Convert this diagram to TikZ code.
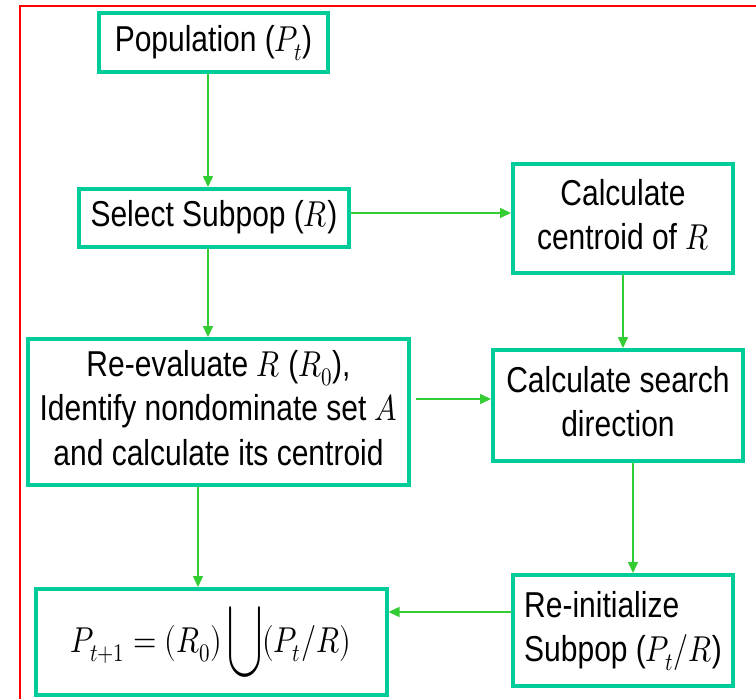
\documentclass[tikz,border=0pt]{standalone}
\usepackage{fontspec}
\usepackage{unicode-math}
\setmainfont{Liberation Sans}
\setmathfont{Latin Modern Math}
\usetikzlibrary{arrows.meta}
\definecolor{boxc}{RGB}{0,204,153}
\definecolor{arrc}{RGB}{51,204,51}
\newcommand\tx[2][c]{\scalebox{1}[1.2]{\begin{tabular}{@{}#1@{}}#2\end{tabular}}}
\begin{document}
\begin{tikzpicture}[x=1pt,y=-1pt,
  box/.style={draw=boxc,line width=4pt,fill=white,inner sep=0pt,
    font=\fontsize{30}{37}\selectfont},
  arr/.style={draw=arrc,line width=1.5pt,-{Triangle[length=11pt,width=10pt]}}]
\useasboundingbox (0,0) rectangle (756,699);
\draw[red,line width=1.5pt] (20,700) -- (20,6) -- (757,6);
\node[box,minimum width=229,minimum height=59] (pop) at (213.5,42.5) {\tx{Population ($P_t$)}};
\node[box,minimum width=270,minimum height=58] (sel) at (214,218) {\tx{Select Subpop ($R$)}};
\node[box,minimum width=381,minimum height=146] (rev) at (218.5,412) {\tx{Re-evaluate $R$ ($R_0$),\\Identify nondominate set $A$\\and calculate its centroid}};
\node[box,minimum width=220,minimum height=109] (cen) at (623,218.5) {\tx{Calculate\\centroid of $R$}};
\node[box,minimum width=250,minimum height=111] (sea) at (618,405.5) {\tx{Calculate search\\direction}};
\node[box,minimum width=220,minimum height=111,align=left] (rei) at (623,630.5) {\tx[l]{Re-initialize\\Subpop ($P_t/R$)}};
\node[box,minimum width=351,minimum height=106] (nxt) at (211,642) {\scalebox{1}[1.2]{$P_{t+1}=(R_0)\mathop{\raisebox{-2pt}{\scalebox{1.05}[1.45]{$\displaystyle\bigcup$}}}(P_t/R)$}};
\draw[arr] ([xshift=-5.5pt]pop.south) -- ([xshift=-6pt]sel.north);
\draw[arr] ([yshift=5pt]sel.east) -- ([yshift=5pt]sel.east -| cen.west);
\draw[arr] ([xshift=-6pt]sel.south) -- ([xshift=-10.5pt]rev.north);
\draw[arr] (cen.south) -- (cen.south |- sea.north);
\draw[arr,shorten <=5pt] ([yshift=13pt]rev.east) -- ([yshift=13pt]rev.east -| sea.west);
\draw[arr] ([xshift=-20.5pt]rev.south) -- ([xshift=-13pt]nxt.north);
\draw[arr] ([xshift=15pt]sea.south) -- ([xshift=10pt]rei.north);
\draw[arr] ([yshift=18.5pt]rei.west) -- ([yshift=18.5pt]rei.west -| nxt.east);
\end{tikzpicture}
\end{document}
